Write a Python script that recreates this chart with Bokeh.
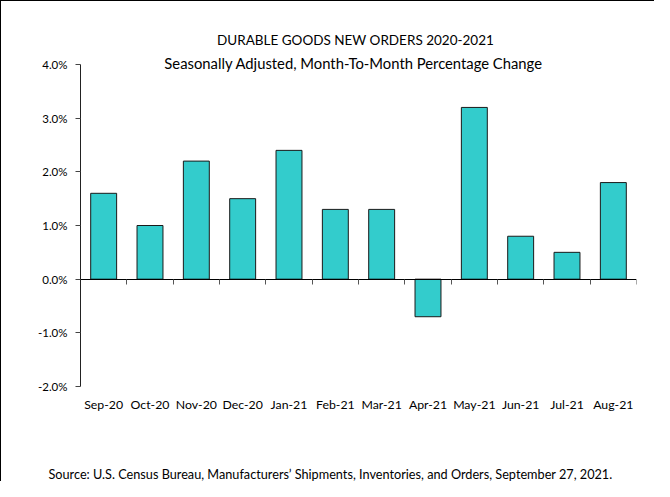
import numpy as np
from bokeh.plotting import figure
from bokeh.models import (Range1d, LinearAxis, FixedTicker, PrintfTickFormatter,
                          Label, Title, ColumnDataSource)
from bokeh.embed import file_html
from bokeh.resources import INLINE

months = ["Sep-20", "Oct-20", "Nov-20", "Dec-20", "Jan-21", "Feb-21",
          "Mar-21", "Apr-21", "May-21", "Jun-21", "Jul-21", "Aug-21"]
pct_change = [1.6, 1.0, 2.2, 1.5, 2.4, 1.3, 1.3, -0.7, 3.2, 0.8, 0.5, 1.8]
y_ticks = [-2, -1, 0, 1, 2, 3, 4]
title_text = "DURABLE GOODS NEW ORDERS 2020-2021"
subtitle_text = "Seasonally Adjusted,  Month-To-Month Percentage Change"
source_text = ("Source: U.S. Census Bureau, Manufacturers\u2019 Shipments, "
               "Inventories, and Orders, September 27, 2021.")

FONT = "Lato"
n = len(months)
centres = list(np.arange(n) + 0.5)
src = ColumnDataSource(dict(x=centres, top=pct_change))

# the frame reaches up to the canvas top so that the titles can sit inside it
p = figure(width=654, height=481, output_backend="svg", toolbar_location=None,
           x_range=Range1d(0, n), y_range=Range1d(y_ticks[0], 5.174),
           x_axis_location=None, y_axis_location=None,
           min_border_left=79, min_border_right=19, min_border_top=0,
           min_border_bottom=96)
p.styles = {"border-left": "1px solid #000", "border-top": "1px solid #000"}
p.grid.visible = False
p.outline_line_color = None
p.background_fill_color = "white"
p.border_fill_color = "white"

p.vbar(x="x", top="top", bottom=0, width=0.56, source=src,
       fill_color="#33CCCC", line_color="#1a1a1a", line_width=1)

# y axis
yax = LinearAxis(ticker=FixedTicker(ticks=y_ticks),
                 formatter=PrintfTickFormatter(format="%.1f%%"),
                 bounds=(y_ticks[0], y_ticks[-1]))
yax.axis_line_color = "#222222"
yax.major_tick_line_color = "#444444"
yax.major_tick_out = 5
yax.major_tick_in = 0
yax.minor_tick_line_color = None
yax.major_label_standoff = 8
yax.major_label_text_font = FONT
yax.major_label_text_font_size = "11.5px"
yax.major_label_text_color = "#000000"
p.add_layout(yax, "left")

# zero line axis with boundary ticks
zax = LinearAxis(ticker=FixedTicker(ticks=list(range(n + 1))), fixed_location=0)
zax.axis_line_color = "#000000"
zax.major_tick_line_color = "#555555"
zax.major_tick_out = 5
zax.major_tick_in = 0
zax.minor_tick_line_color = None
zax.major_label_text_alpha = 0
zax.major_label_text_font_size = "1px"
p.add_layout(zax, "below")

# category label axis
xax = LinearAxis(ticker=FixedTicker(ticks=centres),
                 major_label_overrides={c: m for c, m in zip(centres, months)})
xax.axis_line_color = None
xax.major_tick_line_color = None
xax.minor_tick_line_color = None
xax.major_label_standoff = 4
xax.major_label_text_font = FONT
xax.major_label_text_font_size = "12.3px"
xax.major_label_text_color = "#000000"
p.add_layout(xax, "below")

for txt, yoff, fs in [(title_text, 25, "13.5px"), (subtitle_text, 2, "14.8px")]:
    p.add_layout(Label(x=n / 2, y=y_ticks[-1], text=txt, y_offset=yoff,
                       x_offset=-3, text_align="center", text_baseline="middle",
                       text_font=FONT, text_font_size=fs,
                       text_color="#000000"))

# empty spacer, then the source note
p.add_layout(Title(text=" ", standoff=45, text_font_size="1px"), "below")
p.add_layout(Title(text=source_text, align="left", offset=-32, standoff=2,
                   text_font=FONT, text_font_size="12.7px",
                   text_font_style="normal", text_color="#000000"), "below")

open("out.html", "w").write(file_html(p, INLINE))
